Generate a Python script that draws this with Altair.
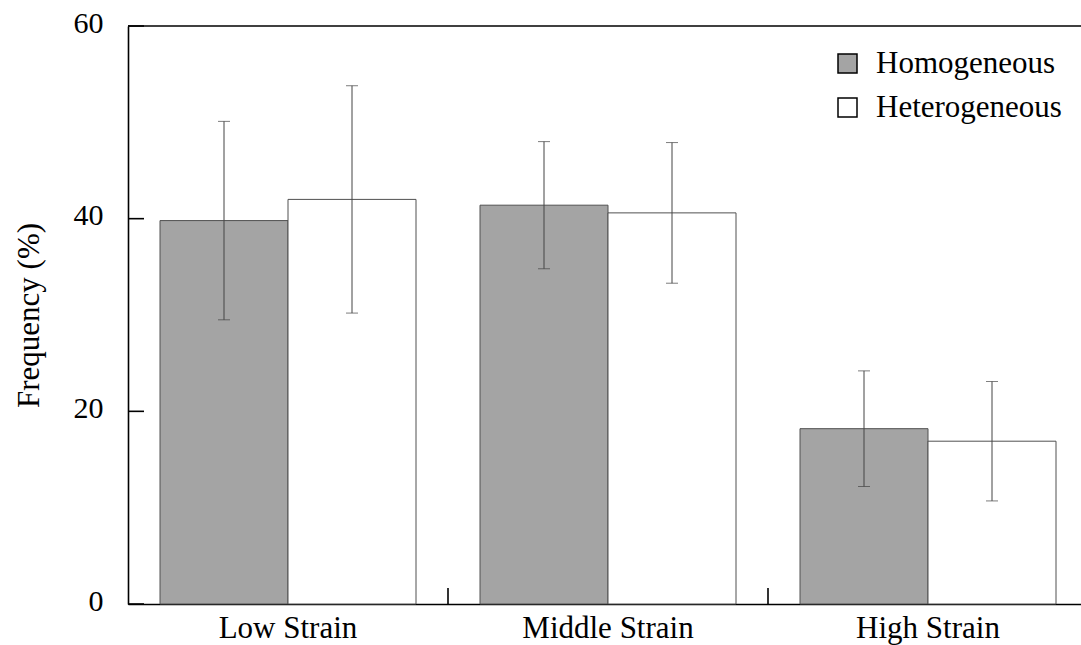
import altair as alt
import pandas as pd

# Frequency (%) of each strain level, by texture type
strains = ["Low Strain", "Middle Strain", "High Strain"]
groups = ["Homogeneous", "Heterogeneous"]
homogeneous_mean = [39.8, 41.4, 18.2]
homogeneous_sd = [10.3, 6.6, 6.0]
heterogeneous_mean = [42.0, 40.6, 16.9]
heterogeneous_sd = [11.8, 7.3, 6.2]
y_ticks = [0, 20, 40, 60]

rows = []
for i, s in enumerate(strains):
    for g, m, sd in (("Homogeneous", homogeneous_mean[i], homogeneous_sd[i]),
                     ("Heterogeneous", heterogeneous_mean[i], heterogeneous_sd[i])):
        rows.append({"strain": s, "group": g, "mean": m, "lo": m - sd, "hi": m + sd})
df = pd.DataFrame(rows)

FONT = "Liberation Serif"
W, H = 953, 578

x_enc = alt.X("strain:N", sort=strains,
              scale=alt.Scale(domain=strains, range=[0, 960], paddingInner=0, paddingOuter=0),
              axis=alt.Axis(title=None, labelAngle=0, labelFontSize=31, labelFont=FONT,
                            labelColor="black", labelPadding=9, ticks=False, tickSize=0,
                            domainColor="black", domainWidth=1.6))
xoff_enc = alt.XOffset("group:N", sort=groups,
                       scale=alt.Scale(domain=groups, paddingInner=0, paddingOuter=0.25))
y_scale = alt.Scale(domain=[0, 60], nice=False)

base = alt.Chart(df)

bars = base.mark_bar(stroke="#505050", strokeWidth=1).encode(
    x=x_enc,
    xOffset=xoff_enc,
    y=alt.Y("mean:Q", scale=y_scale,
            axis=alt.Axis(values=y_ticks, title="Frequency (%)", titleFontSize=31,
                          titleFont=FONT, titleFontWeight="normal", titleColor="black",
                          titlePadding=28, labelFontSize=30, labelFont=FONT,
                          labelColor="black", labelPadding=25, labelOffset=-3,
                          ticks=False, tickSize=0,
                          grid=False, domainColor="black", domainWidth=1.6)),
    fill=alt.Fill("group:N", sort=groups,
                  scale=alt.Scale(domain=groups, range=["#a4a4a4", "#ffffff"]),
                  legend=alt.Legend(title=None, orient="none", legendX=704, legendY=22,
                                    symbolType="square", symbolSize=361,
                                    symbolStrokeColor="black", symbolStrokeWidth=1.5,
                                    labelFont=FONT, labelFontSize=31, labelColor="black",
                                    labelOffset=13, rowPadding=12, padding=0, labelLimit=400)),
)

err = base.mark_rule(color="#444444", strokeWidth=1).encode(
    x=alt.X("strain:N", sort=strains), xOffset=alt.XOffset("group:N", sort=groups),
    y=alt.Y("lo:Q", scale=y_scale), y2="hi:Q")

cap_lo = base.mark_tick(color="#444444", thickness=1, size=12, orient="horizontal").encode(
    x=alt.X("strain:N", sort=strains), xOffset=alt.XOffset("group:N", sort=groups),
    y=alt.Y("lo:Q", scale=y_scale))
cap_hi = base.mark_tick(color="#444444", thickness=1, size=12, orient="horizontal").encode(
    x=alt.X("strain:N", sort=strains), xOffset=alt.XOffset("group:N", sort=groups),
    y=alt.Y("hi:Q", scale=y_scale))

# inward ticks on the value axis
ytick_marks = alt.Chart(pd.DataFrame({"v": y_ticks})).mark_rule(
    color="black", strokeWidth=1.6).encode(
    y=alt.Y("v:Q", scale=y_scale), x=alt.value(0), x2=alt.value(16))

# inward ticks between the strain groups
xtick_marks = alt.Chart(pd.DataFrame({"strain": strains[1:]})).mark_rule(
    color="black", strokeWidth=1.6).encode(
    x=alt.X("strain:N", sort=strains, bandPosition=0),
    y=alt.value(H - 16), y2=alt.value(H))

# top frame line
top_line = alt.Chart(pd.DataFrame({"k": [0]})).mark_rule(
    color="black", strokeWidth=1.6).encode(
    x=alt.value(0), x2=alt.value(W), y=alt.value(0))

chart = alt.layer(bars, err, cap_lo, cap_hi, ytick_marks, xtick_marks, top_line).properties(
    width=W, height=H,
    autosize=alt.AutoSizeParams(type="none"),
    padding={"left": 128, "top": 26, "right": 0, "bottom": 41},
    background="white",
).configure_view(stroke=None)

chart.save("out.html", embed_options={"renderer": "svg", "actions": False})
